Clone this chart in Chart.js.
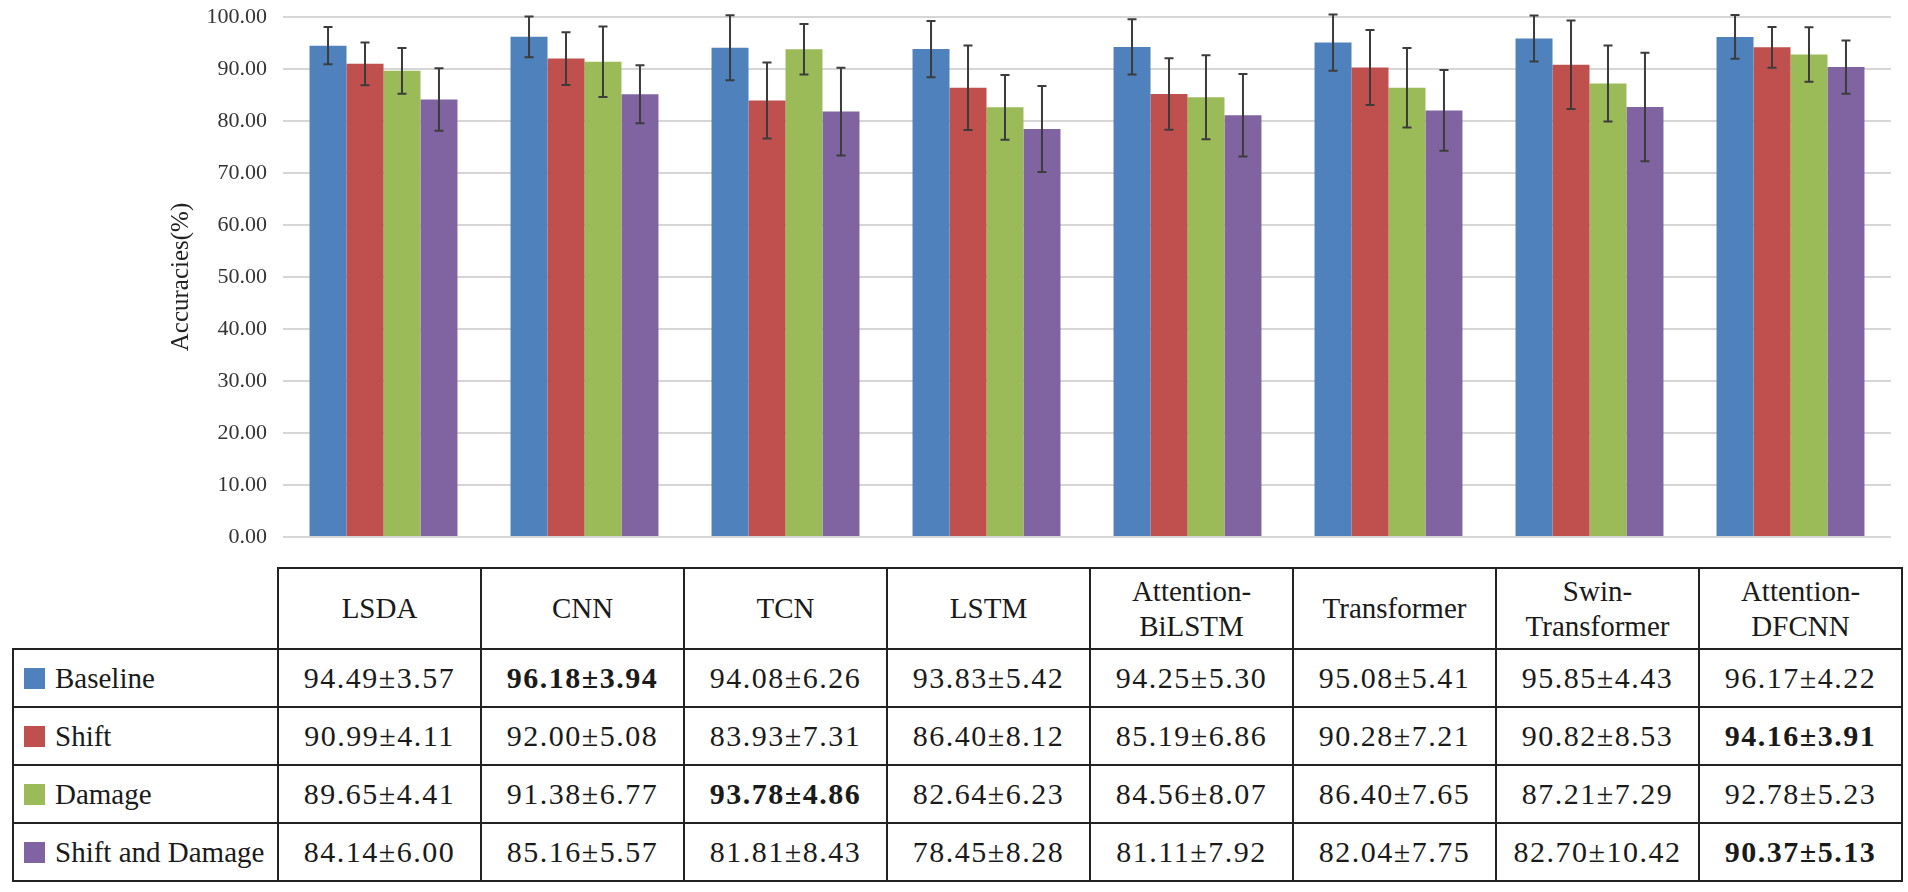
<!DOCTYPE html>
<html>
<head>
<meta charset="utf-8">
<title>Accuracies</title>
<script src="https://cdn.jsdelivr.net/npm/chart.js@4.4.1/dist/chart.umd.min.js"></script>
<style>
  body { margin: 0; background: #fff; }
  #wrap { position: relative; width: 1908px; height: 892px; }
  #mychart { position: absolute; left: 0; top: 0; }
  #tbl {
    position: absolute; left: 12px; top: 567px;
    border-collapse: collapse; table-layout: fixed; width: 1889px;
    font-family: 'Liberation Serif', 'Times New Roman', serif; font-size: 29px; color: #1a1a1a;
  }
  #tbl td { border: 2px solid #222; text-align: center; vertical-align: middle; padding: 0; white-space: nowrap; }
  #tbl td.num { font-size: 30px; letter-spacing: 1.5px; }
  #tbl tr.head td { height: 79px; line-height: 35px; }
  #tbl tr.row td { height: 56px; }
  #tbl td.corner { border-top: none; border-left: none; }
  #tbl td.leg { text-align: left; padding-left: 10px; }
  #tbl .sq { display: inline-block; width: 21px; height: 21px; margin-right: 10px; vertical-align: -1px; }
</style>
</head>
<body>
<div id="wrap">
  <canvas id="mychart" width="1908" height="560"></canvas>
  <table id="tbl"></table>
</div>
<script>
const methods = ['LSDA', 'CNN', 'TCN', 'LSTM', 'Attention-BiLSTM', 'Transformer', 'Swin-Transformer', 'Attention-DFCNN']
const headerLines = [['LSDA'], ['CNN'], ['TCN'], ['LSTM'], ['Attention-', 'BiLSTM'], ['Transformer'], ['Swin-', 'Transformer'], ['Attention-', 'DFCNN']]
const seriesNames = ['Baseline', 'Shift', 'Damage', 'Shift and Damage']
const seriesColors = ['#4f81bd', '#c0504d', '#9bbb59', '#8064a2']

const baseline = [94.49, 96.18, 94.08, 93.83, 94.25, 95.08, 95.85, 96.17]
const baselineSd = [3.57, 3.94, 6.26, 5.42, 5.30, 5.41, 4.43, 4.22]
const shift = [90.99, 92.00, 83.93, 86.40, 85.19, 90.28, 90.82, 94.16]
const shiftSd = [4.11, 5.08, 7.31, 8.12, 6.86, 7.21, 8.53, 3.91]
const damage = [89.65, 91.38, 93.78, 82.64, 84.56, 86.40, 87.21, 92.78]
const damageSd = [4.41, 6.77, 4.86, 6.23, 8.07, 7.65, 7.29, 5.23]
const shiftDamage = [84.14, 85.16, 81.81, 78.45, 81.11, 82.04, 82.70, 90.37]
const shiftDamageSd = [6.00, 5.57, 8.43, 8.28, 7.92, 7.75, 10.42, 5.13]

// [series index, method index] of the bold table entries
const boldCells = [[0, 1], [2, 2], [1, 7], [3, 7]]

const values = [baseline, shift, damage, shiftDamage]
const errors = [baselineSd, shiftSd, damageSd, shiftDamageSd]

const serif = "'Liberation Serif', 'Times New Roman', serif"

// error bars drawn on top of each bar
const errorBars = {
    id: 'errorBars',
    afterDatasetsDraw(chart) {
        const ctx = chart.ctx
        const y = chart.scales.y
        ctx.save()
        ctx.strokeStyle = '#3c3c3c'
        ctx.lineWidth = 2
        chart.data.datasets.forEach((ds, i) => {
            const meta = chart.getDatasetMeta(i)
            meta.data.forEach((bar, j) => {
                const v = ds.data[j], e = ds.errors[j]
                const top = y.getPixelForValue(v + e)
                const bot = y.getPixelForValue(v - e)
                ctx.beginPath()
                ctx.moveTo(bar.x, top); ctx.lineTo(bar.x, bot)
                ctx.moveTo(bar.x - 4.5, top); ctx.lineTo(bar.x + 4.5, top)
                ctx.moveTo(bar.x - 4.5, bot); ctx.lineTo(bar.x + 4.5, bot)
                ctx.stroke()
            })
        })
        ctx.restore()
    }
}

var ctx = document.getElementById('mychart').getContext('2d')
const chart = new Chart(ctx, {
    type: 'bar',
    data: {
        labels: methods,
        datasets: seriesNames.map((name, i) => ({
            label: name,
            data: values[i],
            errors: errors[i],
            backgroundColor: seriesColors[i],
            borderWidth: 0,
            barPercentage: 1,
            categoryPercentage: 0.736
        }))
    },
    options: {
        responsive: false,
        animation: false,
        devicePixelRatio: 1,
        layout: { padding: { left: 160, top: 17, right: 17, bottom: 23 } },
        plugins: { legend: { display: false }, tooltip: { enabled: false } },
        scales: {
            x: { display: false },
            y: {
                min: 0, max: 100,
                border: { display: false },
                grid: { color: '#d6d6d6', lineWidth: 2, drawTicks: false },
                ticks: {
                    stepSize: 10, padding: 16, color: '#333',
                    font: { family: serif, size: 22 },
                    callback: v => v.toFixed(2)
                },
                title: {
                    display: true, text: 'Accuracies(%)', color: '#222',
                    font: { family: serif, size: 25 },
                    padding: { top: 6, bottom: 0 }
                },
                afterFit: s => {
                    s.width = 123
                    // let the layout padding alone decide the plot's top and bottom
                    s.paddingTop = 0
                    s.paddingBottom = 0
                }
            }
        }
    },
    plugins: [errorBars]
})

// data table under the chart
const tbl = document.getElementById('tbl')
let html = '<colgroup><col style="width:265px">' + methods.map(() => '<col style="width:203px">').join('') + '</colgroup>'
html += '<tr class="head"><td class="corner"></td>' + headerLines.map(l => '<td>' + l.join('<br>') + '</td>').join('') + '</tr>'
seriesNames.forEach((name, i) => {
    html += '<tr class="row"><td class="leg"><span class="sq" style="background:' + seriesColors[i] + '"></span>' + name + '</td>'
    values[i].forEach((v, j) => {
        const bold = boldCells.some(b => b[0] == i && b[1] == j)
        const txt = v.toFixed(2) + '±' + errors[i][j].toFixed(2)
        html += '<td class="num">' + (bold ? '<b>' + txt + '</b>' : txt) + '</td>'
    })
    html += '</tr>'
})
tbl.innerHTML = html
</script>
</body>
</html>
